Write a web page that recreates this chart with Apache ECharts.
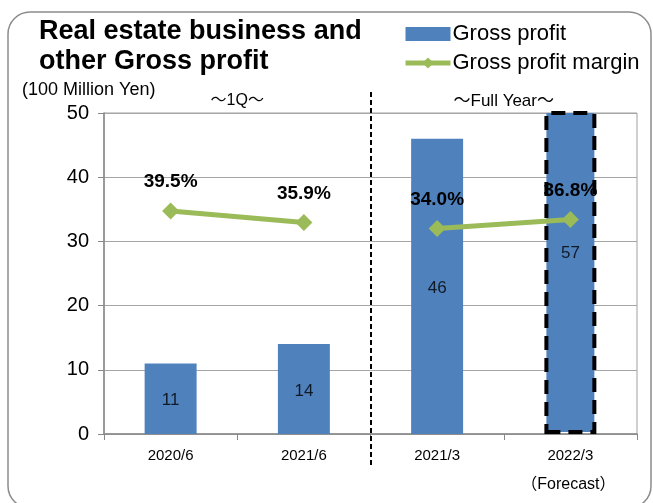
<!DOCTYPE html>
<html>
<head>
<meta charset="utf-8">
<script src="https://cdn.jsdelivr.net/npm/echarts@6/dist/echarts.min.js"></script>
<style>
  html, body { margin: 0; padding: 0; background: #fff; }
  #chart { width: 653px; height: 503px; }
</style>
</head>
<body>
<div id="chart"></div>
<script>
// categories and values
const categories = ['2020/6', '2021/6', '2021/3', '2022/3'];
const grossProfit = [11, 14, 46, 57];
const grossMargin = [39.5, 35.9, 34.0, 36.8];
const yTicks = { min: 0, max: 50, interval: 10 };

const FONT = '"Liberation Sans", Arial, "Noto Sans CJK JP", sans-serif';
const BLUE = '#4F81BD';
const GREEN = '#9BBB59';

const chart = echarts.init(document.getElementById('chart'));

// bar data: the forecast bar gets the dashed outline
const barData = grossProfit.map((v, i) => {
  if (i === grossProfit.length - 1) {
    return {
      value: v,
      itemStyle: { borderColor: '#000', borderWidth: 4, borderType: [14, 8] }
    };
  }
  return v;
});

// value labels sit in the middle of the full (unclipped) bar
const barLabelPoints = grossProfit.map(v => v / 2);

// the margin line is broken between the 1Q pair and the full-year pair
const marginQuarter = grossMargin.map((v, i) => (i < 2 ? v : '-'));
const marginYear = grossMargin.map((v, i) => (i >= 2 ? v : '-'));

const marginLine = data => ({
  name: 'Gross profit margin',
  type: 'line',
  yAxisIndex: 1,
  data: data,
  symbol: 'diamond',
  symbolSize: 17,
  lineStyle: { color: GREEN, width: 5 },
  itemStyle: { color: GREEN },
  label: {
    show: true,
    position: 'top',
    distance: 11,
    fontFamily: FONT,
    fontSize: 19,
    fontWeight: 'bold',
    color: '#000',
    formatter: p => p.value.toFixed(1) + '%'
  },
  z: 4
});

const option = {
  animation: false,
  textStyle: { fontFamily: FONT, color: '#000' },
  title: {
    text: 'Real estate business and\nother Gross profit',
    left: 34,
    top: 12,
    textStyle: { fontFamily: FONT, fontSize: 27, fontWeight: 'bold', color: '#000', lineHeight: 30 }
  },
  legend: {
    data: [
      { name: 'Gross profit', icon: 'rect' },
      { name: 'Gross profit margin', lineStyle: { width: 5, color: GREEN } }
    ],
    orient: 'vertical',
    left: 398,
    top: 18,
    itemWidth: 45,
    itemHeight: 14,
    itemGap: 7,
    textStyle: { fontFamily: FONT, fontSize: 22, color: '#000', padding: [0, 0, 0, -3] }
  },
  grid: {
    left: 104,
    right: 16,
    top: 113,
    bottom: 69,
    show: true,
    borderColor: '#a0a0a0',
    borderWidth: 1
  },
  xAxis: {
    type: 'category',
    data: categories,
    axisLine: { lineStyle: { color: '#888', width: 1.5 } },
    axisTick: { show: true, length: 6, lineStyle: { color: '#888' } },
    axisLabel: { fontFamily: FONT, fontSize: 15, color: '#000', margin: 14 }
  },
  yAxis: [
    {
      type: 'value',
      min: yTicks.min,
      max: yTicks.max,
      interval: yTicks.interval,
      axisLine: { show: true, lineStyle: { color: '#888', width: 1.5 } },
      axisTick: { show: true, length: 6, lineStyle: { color: '#888' } },
      axisLabel: { fontFamily: FONT, fontSize: 20, color: '#000', margin: 15 },
      splitLine: { lineStyle: { color: '#a6a6a6', width: 1 } }
    },
    {
      // hidden scale for the margin line
      type: 'value',
      min: -30,
      max: 70,
      show: false,
      splitLine: { show: false }
    }
  ],
  series: [
    {
      name: 'Gross profit',
      type: 'bar',
      data: barData,
      barWidth: '39%',
      itemStyle: { color: BLUE },
      clip: true,
      z: 2
    },
    {
      name: 'bar labels',
      type: 'scatter',
      data: barLabelPoints,
      symbolSize: 0,
      silent: true,
      label: {
        show: true,
        position: 'inside',
        offset: [0, 2],
        fontFamily: FONT,
        fontSize: 17,
        color: '#000',
        formatter: p => grossProfit[p.dataIndex]
      },
      z: 3
    },
    marginLine(marginQuarter),
    marginLine(marginYear)
  ]
};

chart.setOption(option);

// separator between the quarterly and full-year groups
const c0 = chart.convertToPixel({ xAxisIndex: 0 }, categories[0]);
const c1 = chart.convertToPixel({ xAxisIndex: 0 }, categories[1]);
const c2 = chart.convertToPixel({ xAxisIndex: 0 }, categories[2]);
const c3 = chart.convertToPixel({ xAxisIndex: 0 }, categories[3]);
const sepX = Math.round((c1 + c2) / 2);

chart.setOption({
  graphic: [
    {
      type: 'rect',
      shape: { x: 8, y: 12, width: 643, height: 496, r: 22 },
      style: { fill: 'none', stroke: '#8c8c8c', lineWidth: 1.5 },
      silent: true,
      z: -1
    },
    {
      type: 'line',
      shape: { x1: sepX, y1: 92, x2: sepX, y2: 466 },
      style: { stroke: '#000', lineWidth: 2, lineDash: [5, 3] },
      silent: true,
      z: 10
    },
    {
      type: 'text',
      x: 22,
      y: 81,
      style: { text: '(100 Million Yen)', font: '18px ' + FONT, fill: '#000' }
    },
    {
      type: 'text',
      x: (c0 + c1) / 2,
      y: 93,
      style: { text: '～1Q～', font: '16px ' + FONT, fill: '#000', textAlign: 'center' }
    },
    {
      type: 'text',
      x: (c2 + c3) / 2,
      y: 93,
      style: { text: '～Full Year～', font: '17px ' + FONT, fill: '#000', textAlign: 'center' }
    },
    {
      type: 'text',
      x: c3 - 2,
      y: 477,
      style: { text: '（Forecast）', font: '16px ' + FONT, fill: '#000', textAlign: 'center' }
    }
  ]
});
</script>
</body>
</html>
